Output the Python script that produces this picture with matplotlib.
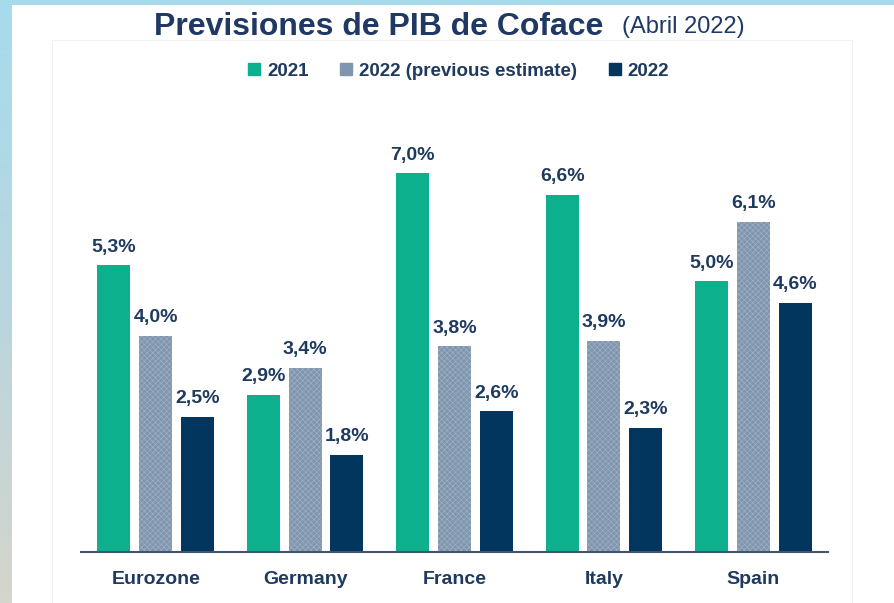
import matplotlib
matplotlib.use("Agg")
import matplotlib.pyplot as plt
import numpy as np
from matplotlib.patches import Rectangle
from matplotlib.lines import Line2D
from matplotlib.colors import LinearSegmentedColormap

categories = ["Eurozone", "Germany", "France", "Italy", "Spain"]
series_names = ["2021", "2022 (previous estimate)", "2022"]
v2021 = [5.3, 2.9, 7.0, 6.6, 5.0]
v2022_prev = [4.0, 3.4, 3.8, 3.9, 6.1]
v2022 = [2.5, 1.8, 2.6, 2.3, 4.6]

teal = "#0db08c"
grey = "#7f96ae"
navy = "#02365f"
txt = "#1f3a5f"

plt.rcParams['hatch.linewidth'] = 0.4
W, H = 894, 603
fig = plt.figure(figsize=(W/100, H/100), dpi=100)
fig.patch.set_facecolor("white")

# background frame: light blue strips
bg = fig.add_axes([0, 0, 1, 1], zorder=-10)
bg.set_xlim(0, W); bg.set_ylim(H, 0); bg.axis("off")
grad = np.linspace(0, 1, 200)[:, None]
cm = LinearSegmentedColormap.from_list("g", ["#a6dcec", "#b9d6df", "#d5d5cc"])
bg.imshow(grad, cmap=cm, extent=[0, 12, H, 0], aspect="auto")
bg.add_patch(Rectangle((0, 0), W, 5, color="#a7dbeb", lw=0))
bg.add_patch(Rectangle((52, 40), 800, 600, fill=False, ec="#f2f2f2", lw=0.8))

fam = ["Liberation Sans", "DejaVu Sans"]
left, right = 81, 828
bottom_px, top_px = 552, 130
ax = fig.add_axes([left/W, 1-bottom_px/H, (right-left)/W, (bottom_px-top_px)/H])
ax.set_xlim(-0.5, 4.5)
ax.set_ylim(0, 7.8)
ax.patch.set_alpha(0)

x = np.arange(len(categories))
bw = 0.22
step = 0.28
data = [v2021, v2022_prev, v2022]
for i, (vals, col) in enumerate(zip(data, [teal, grey, navy])):
    xs = x + (i-1)*step
    if i == 1:
        ax.bar(xs, vals, bw, color=col, hatch="xxxxxx", edgecolor="#a3b4c6", lw=0)
    else:
        ax.bar(xs, vals, bw, color=col, lw=0)
    for xx, v in zip(xs, vals):
        ax.annotate(f"{v:.1f}%".replace(".", ","), (xx, v), xytext=(0, 7),
                    textcoords="offset points", ha="center", va="bottom",
                    fontsize=14, fontweight="bold", color=txt, family=fam)

for s in ["top", "right", "left"]:
    ax.spines[s].set_visible(False)
ax.spines["bottom"].set_color("#44546a")
ax.spines["bottom"].set_linewidth(1.5)
ax.set_yticks([])
ax.set_xticks(x)
ax.set_xticklabels(categories, fontsize=14, fontweight="bold", color=txt, family=fam)
ax.tick_params(axis="x", length=0, pad=14)

# title
fig.text(379/W, 1-27/H, "Previsiones de PIB de Coface", ha="center", va="center",
         fontsize=23, fontweight="bold", color="#1f3864", family=fam)
fig.text(622/W, 1-27/H, "(Abril 2022)", ha="left", va="center",
         fontsize=17, color="#1f3864", family=fam)

handles = [Line2D([], [], marker="s", ls="", color=teal, markersize=9),
           Line2D([], [], marker="s", ls="", color=grey, markersize=9),
           Line2D([], [], marker="s", ls="", color=navy, markersize=9)]
fig.legend(handles, series_names, loc="center", bbox_to_anchor=(457/W, 1-71/H), ncol=3,
           frameon=False, handletextpad=0.2, columnspacing=1.5, handlelength=1.0,
           prop={"family": fam, "weight": "bold", "size": 13.5}, labelcolor=txt)

fig.savefig("out.png", dpi=100)
